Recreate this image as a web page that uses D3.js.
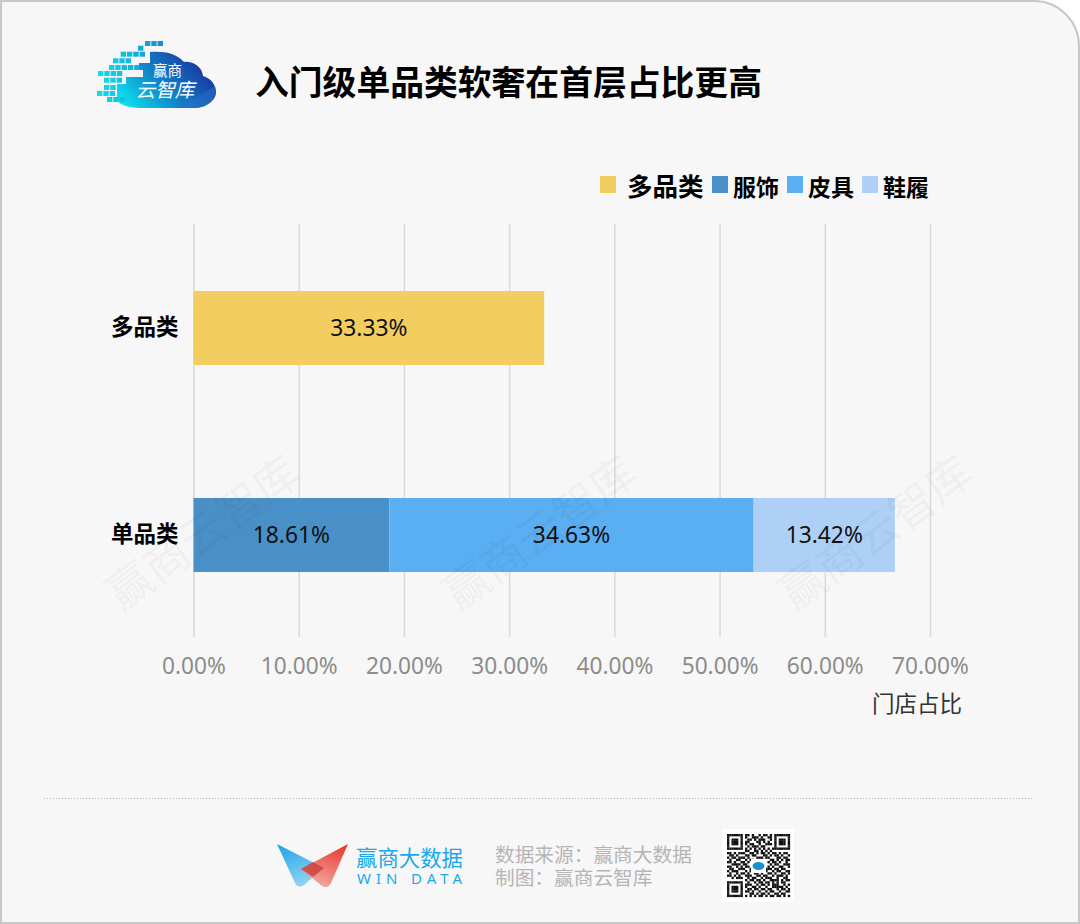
<!DOCTYPE html>
<html>
<head>
<meta charset="utf-8">
<script src="https://cdn.jsdelivr.net/npm/d3@7"></script>
<style>
html, body { margin: 0; padding: 0; background: #fff; }
svg { display: block; }
text { font-family: "Noto Sans CJK SC", "Noto Sans", sans-serif; }
</style>
</head>
<body>
<svg id="chart" width="1080" height="924"></svg>
<script>
var categories = ['多品类', '单品类'];
var seriesNames = ['多品类', '服饰', '皮具', '鞋履'];
var seriesColors = ['#f3cd5f', '#4a90c8', '#5aaef2', '#aed0f7'];
var multiValues = [33.33, 0, 0, 0];
var singleValues = [0, 18.61, 34.63, 13.42];
var xTicks = [0, 10, 20, 30, 40, 50, 60, 70];
var footerLines = ['数据来源：赢商大数据', '制图：赢商云智库'];
var qrRows = [
  '1111111011010010110101111111',
  '1000001010011101001101000001',
  '1011101001101011100101011101',
  '1011101011000110101001011101',
  '1011101010110010011101011101',
  '1000001001011101100001000001',
  '1111111010101010101011111111',
  '0000000011001101010100000000',
  '1101011100110101101011010110',
  '0110100011011000110101101001',
  '1011011101000111011000110110',
  '0100110010110001100110101011',
  '1101001101000000001011010010',
  '0011110110000000000101100111',
  '1100101011000000001010011001',
  '0110011100100000011101101100',
  '1011100010110000110010110011',
  '0100101101001101001101001101',
  '1101010011100110110010111010',
  '0010111001011001011100100110',
  '0000000010110110100111101011',
  '1111111001001011011010101100',
  '1000001011100101101011100101',
  '1011101010011010010011111010',
  '1011101001101101101100101101',
  '1011101011010010010110010011',
  '1000001000110101101001101100',
  '1111111010101011010110110101'
];

var svg = d3.select('#chart');

// card background, only the top right corner is round
svg.append('path')
  .attr('d', 'M1,923 L1,1 L1034,1 A45,45 0 0 1 1079,46 L1079,923 Z')
  .attr('fill', '#f7f7f7')
  .attr('stroke', '#c8c8c8')
  .attr('stroke-width', 2);

var defs = svg.append('defs');
var cloudGrad = defs.append('linearGradient').attr('id', 'cloudGrad')
  .attr('x1', '0').attr('y1', '0.85').attr('x2', '1').attr('y2', '0.35');
cloudGrad.append('stop').attr('offset', '0').attr('stop-color', '#0ce6f0');
cloudGrad.append('stop').attr('offset', '0.45').attr('stop-color', '#1187c9');
cloudGrad.append('stop').attr('offset', '1').attr('stop-color', '#1b2c9e');
var wingBlue = defs.append('linearGradient').attr('id', 'wingBlue')
  .attr('x1', '0').attr('y1', '0').attr('x2', '0.4').attr('y2', '1');
wingBlue.append('stop').attr('offset', '0').attr('stop-color', '#1ba3e6');
wingBlue.append('stop').attr('offset', '1').attr('stop-color', '#8fd2f2');
var wingRed = defs.append('linearGradient').attr('id', 'wingRed')
  .attr('x1', '0.8').attr('y1', '0').attr('x2', '0.4').attr('y2', '1');
wingRed.append('stop').attr('offset', '0').attr('stop-color', '#e8392f');
wingRed.append('stop').attr('offset', '1').attr('stop-color', '#f2a9a3');

// logo top left
var logo = svg.append('g');
logo.append('path')
  .attr('d', 'M119,103 C126,107 134,108 142,108 L194,108 C207,108 216,100 216,92 C216,84 210,78 203,76 C202,66 192,61 184,62 C177,54 166,51 150,52 L150,63 L139,63 L139,70 L143,70 L143,77 L126,77 L126,84 L117,84 L117,96 Z')
  .attr('fill', 'url(#cloudGrad)');
logo.append('path')
  .attr('d', 'M172,108 C192,100 206,92 215,86 C218,96 208,108 194,108 Z')
  .attr('fill', '#2a6fc8').attr('fill-opacity', 0.55);
var logoPixels = [
  [145,41,3],[138,45.7,1],[120.7,51.7,4],[113,58.3,3],[109,65,5],
  [98,71,4],[104,77.7,3],[104,85,2],[97,91,3],[107,97,3]
];
logoPixels.forEach(function(p) {
  for (var i = 0; i < p[2]; i++) {
    logo.append('rect')
      .attr('x', p[0] + i * 6.3).attr('y', p[1])
      .attr('width', 5.4).attr('height', 5)
      .attr('fill', d3.interpolateRgb('#10dcec', '#1488c8')((p[0] + i * 6.3 - 97) / 70));
  }
});
logo.append('text').attr('x', 167.5).attr('y', 76).attr('text-anchor', 'middle')
  .attr('font-size', 14.5).attr('fill', '#fff').text('赢商');
logo.append('text').attr('x', 165).attr('y', 97).attr('text-anchor', 'middle')
  .attr('font-size', 19.5).attr('font-style', 'italic').attr('fill', '#fff').text('云智库');

// title
svg.append('text')
  .attr('x', 255).attr('y', 95)
  .attr('font-size', 33.8).attr('font-weight', 700).attr('fill', '#000')
  .text('入门级单品类软奢在首层占比更高');

// scales
var x = d3.scaleLinear().domain([0, 70]).range([193.5, 930]);
var y = d3.scaleBand().domain(categories).range([225, 638]).paddingInner(0.6425).paddingOuter(0.319);

// vertical grid and x axis
var xAxis = d3.axisBottom(x).tickValues(xTicks)
  .tickSize(413).tickPadding(21)
  .tickFormat(function(d) { return d.toFixed(2) + '%'; });
var xG = svg.append('g').attr('transform', 'translate(0,224)').call(xAxis);
xG.select('.domain').remove();
xG.selectAll('line').attr('stroke', '#d9d9d9').attr('stroke-width', 1.5);
xG.selectAll('text')
  .attr('font-size', 22.7).attr('fill', '#8c8c8c')
  .style('font-family', '"Noto Sans", sans-serif');

// stacked bars
var rows = [
  { name: categories[0], values: multiValues },
  { name: categories[1], values: singleValues }
];
var table = rows.map(function(r) {
  var o = { name: r.name };
  seriesNames.forEach(function(s, i) { o[s] = r.values[i]; });
  return o;
});
var stacked = d3.stack().keys(seriesNames)(table);

var layers = svg.selectAll('g.layer').data(stacked).enter().append('g')
  .attr('class', 'layer')
  .attr('fill', function(d, i) { return seriesColors[i]; });
layers.selectAll('rect')
  .data(function(d) { return d.filter(function(s) { return s[1] > s[0]; }); })
  .enter().append('rect')
  .attr('x', function(d) { return x(d[0]); })
  .attr('y', function(d) { return y(d.data.name); })
  .attr('width', function(d) { return x(d[1]) - x(d[0]); })
  .attr('height', y.bandwidth());
layers.selectAll('text')
  .data(function(d) { return d.filter(function(s) { return s[1] > s[0]; }); })
  .enter().append('text')
  .attr('x', function(d) { return (x(d[0]) + x(d[1])) / 2; })
  .attr('y', function(d) { return y(d.data.name) + y.bandwidth() / 2; })
  .attr('dy', '0.35em')
  .attr('text-anchor', 'middle')
  .attr('font-size', 22.8).attr('fill', '#111')
  .style('font-family', '"Noto Sans", sans-serif')
  .text(function(d) { return (d[1] - d[0]).toFixed(2) + '%'; });

// category axis
var yAxis = d3.axisLeft(y).tickSize(0).tickPadding(15);
var yG = svg.append('g').attr('transform', 'translate(193.5,0)').call(yAxis);
yG.select('.domain').remove();
yG.selectAll('text').attr('font-size', 22.5).attr('font-weight', 700).attr('fill', '#000');

svg.append('text')
  .attr('x', 962).attr('y', 712).attr('text-anchor', 'end')
  .attr('font-size', 22.5).attr('fill', '#333')
  .text('门店占比');

// legend
var legendX = [600, 712, 787, 862];
var legendSize = [25.5, 23, 23, 23];
var legend = svg.selectAll('g.legend').data(seriesNames).enter().append('g').attr('class', 'legend');
legend.append('rect')
  .attr('x', function(d, i) { return legendX[i]; })
  .attr('y', 176).attr('width', 16).attr('height', 17)
  .attr('fill', function(d, i) { return seriesColors[i]; });
legend.append('text')
  .attr('x', function(d, i) { return legendX[i] + (i === 0 ? 27 : 21); })
  .attr('y', 195.5)
  .attr('font-size', function(d, i) { return legendSize[i]; })
  .attr('font-weight', 700).attr('fill', '#000')
  .text(function(d) { return d; });

// watermarks
[203, 540, 876].forEach(function(cx) {
  svg.append('text')
    .attr('transform', 'translate(' + cx + ',533) rotate(-36)')
    .attr('text-anchor', 'middle').attr('dy', '0.35em')
    .attr('font-size', 45)
    .attr('fill', '#000').attr('fill-opacity', 0.05)
    .text('赢商云智库');
});

// footer
svg.append('line')
  .attr('x1', 44).attr('x2', 1032).attr('y1', 798.5).attr('y2', 798.5)
  .attr('stroke', '#b5b5b5').attr('stroke-width', 1).attr('stroke-dasharray', '1 2');

svg.append('path')
  .attr('d', 'M277,844 L324,868 L304,885 Q298,889 295,883 Z')
  .attr('fill', 'url(#wingBlue)');
svg.append('path')
  .attr('d', 'M348,844 L331,883 Q328,889 322,886 L301,869 Z')
  .attr('fill', 'url(#wingRed)');
svg.append('path').attr('d', 'M301,869 L313,862 L324,868 L313,877 Z').attr('fill', '#c9403f').attr('fill-opacity', 0.8);

svg.append('text').attr('x', 356).attr('y', 866)
  .attr('font-size', 21.4).attr('fill', '#1ea7e8').text('赢商大数据');
svg.append('text').attr('x', 357).attr('y', 884)
  .attr('font-size', 15).attr('textLength', 105).attr('lengthAdjust', 'spacing').attr('fill', '#1ea7e8')
  .style('font-family', '"Noto Sans", sans-serif').text('WIN DATA');

svg.selectAll('text.footer').data(footerLines).enter().append('text')
  .attr('class', 'footer')
  .attr('x', 495)
  .attr('y', function(d, i) { return 862 + i * 23; })
  .attr('font-size', 19.7).attr('fill', '#b5b5b5')
  .text(function(d) { return d; });

// qr code
var qr = svg.append('g');
qr.append('rect').attr('x', 722).attr('y', 829).attr('width', 72).attr('height', 73).attr('fill', '#fff');
var cell = 63 / qrRows.length;
qrRows.forEach(function(row, r) {
  row.split('').forEach(function(c, k) {
    if (c === '1') {
      qr.append('rect')
        .attr('x', 727 + k * cell).attr('y', 834 + r * cell)
        .attr('width', cell + 0.1).attr('height', cell + 0.1)
        .attr('fill', '#111');
    }
  });
});
qr.append('rect').attr('x', 751).attr('y', 859).attr('width', 15).attr('height', 14).attr('fill', '#fff');
qr.append('ellipse').attr('cx', 758.5).attr('cy', 866).attr('rx', 6).attr('ry', 4).attr('fill', '#1a90d0');
</script>
</body>
</html>
